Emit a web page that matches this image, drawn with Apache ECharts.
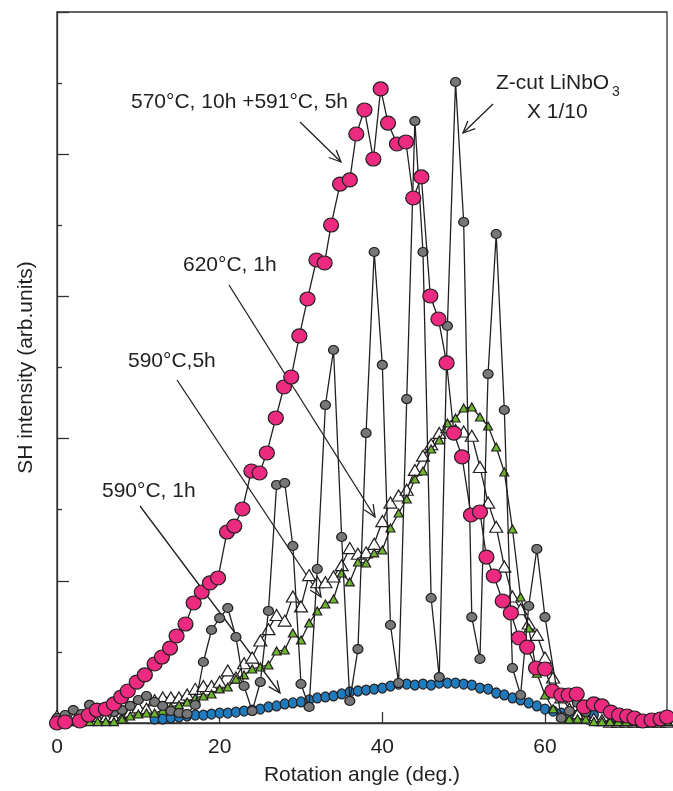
<!DOCTYPE html>
<html>
<head>
<meta charset="utf-8">
<script src="https://cdn.jsdelivr.net/npm/echarts@6/dist/echarts.min.js"></script>
<style>
  html, body { margin: 0; padding: 0; background: #fff; }
  #main { width: 673px; height: 791px; }
</style>
</head>
<body>
<div id="main"></div>
<script>
// 570°C, 10h + 591°C, 5h (pink circles)
var pinkAngle = [0, 1.0, 2.8, 3.9, 4.9, 6.0, 7.0, 7.9, 8.7, 9.8, 10.8, 12.0, 12.9, 13.9, 14.7,
  15.8, 16.8, 17.8, 18.8, 19.8, 20.9, 21.8, 22.8, 23.9, 24.9, 25.8, 26.9, 27.9, 28.8, 29.8,
  30.8, 31.9, 32.9, 33.7, 34.8, 36.0, 36.8, 37.8, 38.9, 39.8, 40.7, 41.8, 42.9, 43.8, 44.8,
  45.9, 46.9, 47.9, 48.8, 49.8, 50.9, 52.0, 52.8, 53.7, 54.8, 55.8, 56.8, 57.8, 58.9, 60.0,
  60.9, 62.0, 62.9, 63.9, 64.8, 66.0, 67.0, 68.1, 69.1, 70.1, 71.0, 72.0, 73.1, 74.2, 75.0];
var pinkValue = [0, 0.07, 0.14, 0.56, 0.91, 0.98, 1.34, 1.83, 2.25, 2.88, 3.38, 4.15, 4.64, 5.27, 6.12,
  6.96, 8.44, 9.21, 9.85, 10.20, 13.43, 13.85, 15.05, 17.72, 17.58, 18.99, 21.45, 23.63, 24.33, 27.22,
  29.82, 32.56, 32.35, 35.02, 37.90, 38.19, 41.42, 43.11, 39.66, 44.59, 42.19, 40.72, 40.86, 36.92, 38.40,
  30.03, 28.41, 25.32, 20.39, 18.71, 14.63, 14.84, 11.67, 10.34, 8.58, 7.74, 5.98, 5.34, 3.87, 3.80,
  2.25, 1.97, 1.97, 2.04, 1.13, 1.34, 1.20, 0.77, 0.56, 0.49, 0.35, 0.14, 0.21, 0.28, 0.42];

// Z-cut LiNbO3 x 1/10 (gray circles)
var grayAngle = [0, 1, 2, 3, 4, 5, 6, 7, 8, 9, 10, 11, 12, 13, 14, 15, 16, 17, 18, 19, 20,
  21, 22, 23, 24, 25, 26, 27, 28, 29, 30, 31, 32, 33, 34, 35, 36, 37, 38, 39, 40,
  41, 42, 43, 44, 45, 46, 47, 48, 49, 50, 51, 52, 53, 54, 55, 56, 57, 58, 59, 60,
  62, 63, 64, 65];
var grayValue = [0.35, 0.56, 0.91, 0.63, 1.27, 1.05, 0.91, 0.77, 0.91, 1.20, 1.62, 1.90, 1.48, 1.20, 0.84,
  0.70, 0.63, 1.27, 4.29, 6.54, 7.38, 8.09, 6.05, 2.60, 0.84, 2.88, 7.88, 16.74, 16.88, 12.45,
  2.74, 1.13, 10.83, 22.36, 26.23, 13.08, 1.55, 5.20, 20.39, 33.12, 25.18, 6.89, 2.81, 22.78, 42.33,
  33.12, 8.79, 3.23, 27.92, 45.08, 35.23, 7.45, 4.50, 24.54, 34.39, 22.01, 3.87, 1.97, 8.23, 12.24,
  7.45, 0.35, 0.84, 1.41, 0.77];

// 590°C, 1h (blue circles)
var blueAngle = [12, 13, 14, 15, 16, 17, 18, 19, 20, 21, 22, 23, 24, 25, 26, 27, 28, 29, 30, 31,
  32, 33, 34, 35, 36, 37, 38, 39, 40, 41, 42, 43, 44, 45, 46, 47, 48, 49, 50, 51,
  52, 53, 54, 55, 56, 57, 58, 59, 60, 61, 62, 63, 64, 65, 66];
var blueValue = [0.28, 0.28, 0.35, 0.42, 0.49, 0.56, 0.56, 0.63, 0.70, 0.70, 0.77, 0.84, 0.91, 0.98, 1.13,
  1.20, 1.34, 1.41, 1.48, 1.62, 1.76, 1.83, 1.90, 2.04, 2.18, 2.25, 2.32, 2.39, 2.46, 2.60,
  2.74, 2.74, 2.67, 2.74, 2.67, 2.81, 2.81, 2.81, 2.74, 2.67, 2.46, 2.39, 2.11, 1.97, 1.76,
  1.62, 1.41, 1.20, 0.98, 0.84, 0.70, 0.63, 0.56, 0.63, 0.56];

// triangles share the same angles, 0..75 deg
var triAngle = [0, 1, 2, 3, 4, 5, 6, 7, 8, 9, 10, 11, 12, 13, 14, 15, 16, 17, 18, 19,
  20, 21, 22, 23, 24, 25, 26, 27, 28, 29, 30, 31, 32, 33, 34, 35, 36, 37, 38, 39,
  40, 41, 42, 43, 44, 45, 46, 47, 48, 49, 50, 51, 52, 53, 54, 55, 56, 57, 58, 59,
  60, 61, 62, 63, 64, 65, 66, 67, 68, 69, 70, 71, 72, 73, 74, 75];
// white triangles
var whiteValue = [0.5, 0.4, 0.3, 0.3, 0.4, 0.3, 0.4, 0.4, 0.35, 0.8,
  1.1, 1.0, 1.6, 1.8, 1.8, 1.8, 2.0, 2.4, 2.6, 2.6,
  2.9, 3.7, 3.2, 4.2, 4.6, 5.8, 6.6, 7.6, 7.2, 8.9,
  8.2, 10.4, 9.9, 9.9, 10.3, 11.1, 12.3, 11.9, 12.0, 12.6,
  14.2, 15.5, 16.0, 16.4, 17.8, 18.8, 19.6, 20.4, 20.8, 20.6,
  20.5, 20.2, 18.0, 15.5, 13.8, 11.0, 8.9, 8.0, 7.0, 6.2,
  4.6, 3.2, 1.8, 1.0, 0.6, 0.4, 0.3, 0.2, 0.1, 0.1,
  0.1, 0.1, 0.1, 0.1, 0.1, 0.1];
// green triangles
var greenValue = [0.1, 0.1, 0.1, 0.1, 0.1, 0.1, 0.1, 0.1, 0.28, 0.49,
  0.63, 0.7, 0.7, 0.9, 1.13, 1.27, 1.48, 1.76, 1.9, 2.04,
  2.4, 2.53, 3.09, 3.38, 3.8, 3.94, 4.08, 5.06, 5.13, 6.33,
  5.84, 7.03, 7.88, 8.37, 8.72, 10.55, 9.92, 11.32, 11.25, 11.96,
  12.17, 13.71, 14.77, 15.75, 17.16, 17.72, 19.27, 19.9, 21.1, 21.45,
  22.15, 22.22, 21.52, 20.89, 19.41, 17.65, 13.64, 8.86, 6.68, 3.5,
  1.97, 1.0, 0.5, 0.28, 0.3, 0.28, 0.1, 0.1, 0.1, 0.1,
  0.1, 0.1, 0.1, 0.1, 0.1, 0.1];

var ink = '#231f20';
var font = 'Liberation Sans, Arial, sans-serif';

function zip(xs, ys) {
  return xs.map(function (x, i) { return [x, ys[i]]; });
}

function lineSeries(data, symbol, size, color, z) {
  return {
    type: 'line',
    data: data,
    symbol: symbol,
    symbolSize: size,
    showAllSymbol: true,
    z: z,
    lineStyle: { color: ink, width: 1.3 },
    itemStyle: { color: color, borderColor: ink, borderWidth: 1.2 },
    emphasis: { disabled: true },
    animation: false
  };
}

function label(x, y, text, size) {
  return {
    type: 'text', x: x, y: y, z: 100,
    style: {
      text: text, fill: ink, fontSize: size || 21, fontFamily: font,
      align: 'left', verticalAlign: 'middle', textAlign: 'left', textVerticalAlign: 'middle'
    }
  };
}

function arrow(x1, y1, x2, y2) {
  var a = Math.atan2(y2 - y1, x2 - x1), h = 13, w = 0.42;
  return {
    type: 'group', z: 100,
    children: [
      { type: 'line', shape: { x1: x1, y1: y1, x2: x2, y2: y2 },
        style: { stroke: ink, lineWidth: 1.3 } },
      { type: 'polyline',
        shape: { points: [
          [x2 - h * Math.cos(a - w), y2 - h * Math.sin(a - w)],
          [x2, y2],
          [x2 - h * Math.cos(a + w), y2 - h * Math.sin(a + w)]] },
        style: { stroke: ink, fill: null, lineWidth: 1.3 } }
    ]
  };
}

var chart = echarts.init(document.getElementById('main'));

chart.setOption({
  backgroundColor: '#fff',
  animation: false,
  grid: {
    left: 57, right: 6, top: 12, bottom: 68,
    show: true, borderColor: '#333', borderWidth: 1.3
  },
  xAxis: {
    type: 'value', min: 0, max: 75, interval: 20,
    name: 'Rotation angle (deg.)', nameLocation: 'middle', nameGap: 42,
    nameTextStyle: { color: ink, fontSize: 21, fontFamily: font },
    axisLine: { lineStyle: { color: '#333', width: 1.3 } },
    axisTick: { inside: true, length: 11, lineStyle: { color: '#333', width: 1.3 } },
    axisLabel: { color: ink, fontSize: 21, fontFamily: font, margin: 14, showMaxLabel: false },
    splitLine: { show: false }
  },
  yAxis: {
    type: 'value', min: 0, max: 50, interval: 10,
    name: 'SH intensity (arb.units)', nameLocation: 'middle', nameGap: 20,
    nameTextStyle: { color: ink, fontSize: 21, fontFamily: font },
    axisLine: { lineStyle: { color: '#333', width: 1.3 } },
    axisTick: { inside: true, length: 12, lineStyle: { color: '#333', width: 1.3 } },
    minorTick: { show: true, splitNumber: 2, length: 5, lineStyle: { color: '#333', width: 1.3 } },
    axisLabel: { show: false },
    splitLine: { show: false }
  },
  series: [
    lineSeries(zip(blueAngle, blueValue), 'circle', [9, 10], '#1f7bbd', 2),
    lineSeries(zip(triAngle, whiteValue), 'triangle', [13, 11], '#ffffff', 3),
    lineSeries(zip(triAngle, greenValue), 'triangle', [9, 8], '#6cb52f', 4),
    lineSeries(zip(grayAngle, grayValue), 'circle', [10, 9], '#767778', 5),
    lineSeries(zip(pinkAngle, pinkValue), 'circle', [15, 14], '#ec2a80', 6)
  ],
  graphic: [
    label(131, 102, '570°C, 10h +591°C, 5h'),
    arrow(300, 122, 341, 162),
    label(496, 83, 'Z-cut LiNbO'),
    label(612, 92, '3', 14),
    label(527, 112, 'X 1/10'),
    arrow(493, 104, 463, 133),
    label(183, 265, '620°C, 1h'),
    arrow(229, 285, 375, 517),
    label(128, 361, '590°C,5h'),
    arrow(177, 380, 321, 597),
    label(102, 491, '590°C, 1h'),
    arrow(140, 506, 280, 693)
  ]
});
</script>
</body>
</html>
